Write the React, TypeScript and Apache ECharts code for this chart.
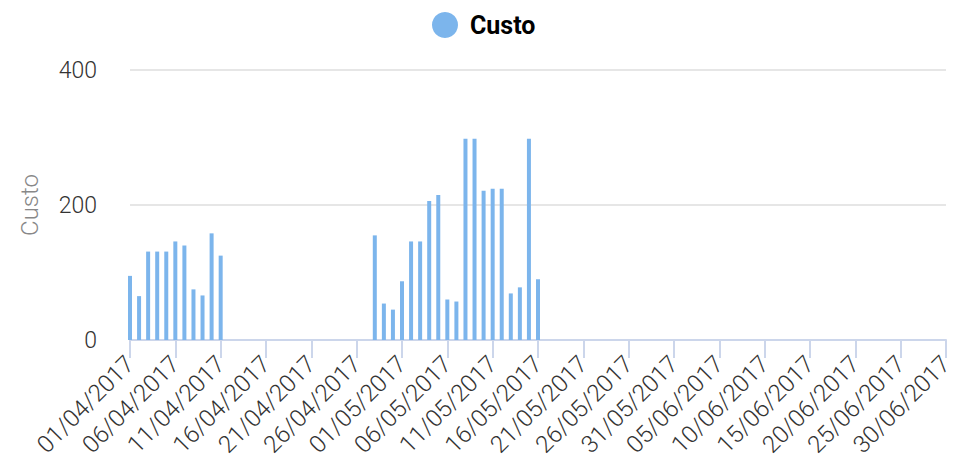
import React, { useEffect, useRef } from "react";
import * as echarts from "echarts";

const startDate = new Date(2017, 3, 1);
const dayCount = 91;
const categories: string[] = [];
for (let i = 0; i < dayCount; i++) {
  const d = new Date(startDate.getFullYear(), startDate.getMonth(), startDate.getDate() + i);
  const dd = String(d.getDate()).padStart(2, "0");
  const mm = String(d.getMonth() + 1).padStart(2, "0");
  categories.push(`${dd}/${mm}/${d.getFullYear()}`);
}

// Values for days with costs (others are zero)
const aprilEarlyValues = [95, 65, 131, 131, 131, 146, 140, 75, 66, 158, 125]; // 01/04 - 11/04
const lateAprilMayValues = [155, 54, 45, 87, 146, 146, 206, 215, 60, 57, 298, 298, 221, 224, 224, 69, 78, 298, 90]; // 28/04 - 16/05

const custo: number[] = [];
for (let i = 0; i < dayCount; i++) custo.push(0);
aprilEarlyValues.forEach((v, i) => (custo[i] = v));
lateAprilMayValues.forEach((v, i) => (custo[27 + i] = v));

const yTicks = { min: 0, max: 400, interval: 200 };

export default function App() {
  const ref = useRef<HTMLDivElement>(null);
  useEffect(() => {
    if (!ref.current) return;
    const chart = echarts.init(ref.current, null, { renderer: "svg" });
    chart.setOption({
      animation: false,
      textStyle: { fontFamily: "Roboto" },
      legend: {
        top: -1,
        left: 419,
        icon: "circle",
        itemWidth: 26,
        itemHeight: 26,
        itemGap: 10,
        textStyle: { fontSize: 25, fontWeight: "bold", color: "#000", fontFamily: "Roboto", padding: [0, 0, 0, 7] },
        data: ["Custo"],
      },
      grid: { left: 122, right: 14, top: 62, bottom: 122, containLabel: false },
      xAxis: {
        type: "category",
        data: categories,
        boundaryGap: false,
        axisLine: { lineStyle: { color: "#ccd6eb", width: 2 } },
        axisTick: { interval: 4, length: 18, lineStyle: { color: "#ccd6eb", width: 2 } },
        axisLabel: {
          interval: 4,
          rotate: 45,
          margin: 20,
          fontSize: 24,
          fontWeight: 300,
          color: "#333",
          fontFamily: "Roboto",
        },
        splitLine: { show: false },
      },
      yAxis: {
        type: "value",
        min: yTicks.min,
        max: yTicks.max,
        interval: yTicks.interval,
        name: "Custo",
        nameLocation: "middle",
        nameGap: 88,
        nameTextStyle: { fontSize: 24, color: "#888", fontWeight: 300, fontFamily: "Roboto" },
        axisLine: { show: false },
        axisTick: { show: false },
        axisLabel: { fontSize: 23, color: "#333", fontWeight: 300, margin: 33, fontFamily: "Roboto" },
        splitLine: { lineStyle: { color: "#e6e6e6", width: 2 } },
      },
      series: [
        {
          name: "Custo",
          type: "bar",
          data: custo,
          barWidth: 4,
          itemStyle: { color: "#7cb5ec" },
        },
      ],
    });
    return () => chart.dispose();
  }, []);
  return <div ref={ref} style={{ width: 952, height: 454 }} />;
}
